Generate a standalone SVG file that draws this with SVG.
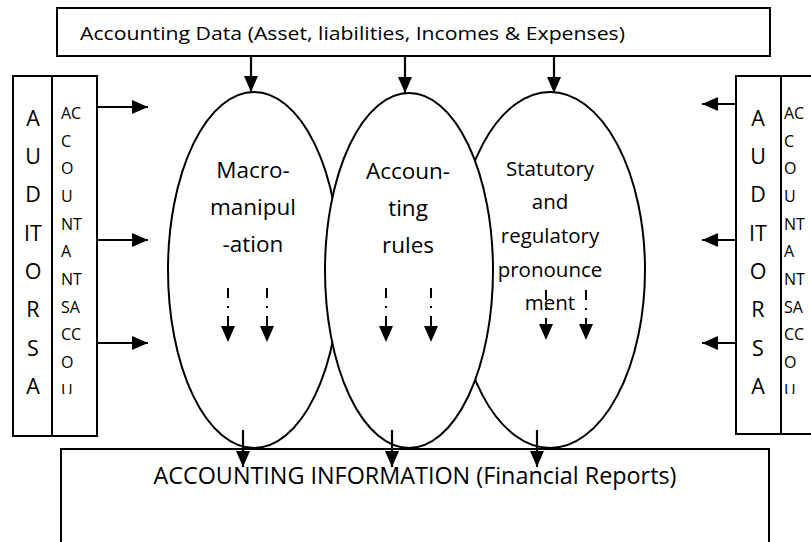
<svg xmlns="http://www.w3.org/2000/svg" width="811" height="542" viewBox="0 0 811 542">
<style>
text{font-family:"Open Sans","Noto Sans","Liberation Sans",sans-serif;fill:#000}
.box{fill:#fff;stroke:#000;stroke-width:2}
.ell{fill:#fff;stroke:#000;stroke-width:2}
.ln{stroke:#000;stroke-width:2.2;fill:none}
.dash{stroke:#000;stroke-width:2;fill:none;stroke-dasharray:10 8 2 8}
.big{font-size:21.5px;text-anchor:middle}
.sm{font-size:16px}
.lab{font-size:22.5px;text-anchor:middle}
.lab3{font-size:20.5px;text-anchor:middle}
</style>
<defs>
<marker id="ah" markerUnits="userSpaceOnUse" markerWidth="16" markerHeight="14" viewBox="0 0 16 14" refX="16" refY="7" orient="auto">
<path d="M0,0 L16,7 L0,14 Z" fill="#000"/>
</marker>
<clipPath id="clipL"><rect x="52" y="76" width="45" height="318"/></clipPath>
<clipPath id="clipR"><rect x="781" y="76" width="40" height="318"/></clipPath>
</defs>
<rect width="811" height="542" fill="#fff"/>

<g id="data">
<rect class="box" x="57" y="8" width="713" height="48"/>
<text x="80" y="40" font-size="18.5" textLength="545" lengthAdjust="spacingAndGlyphs">Accounting Data (Asset, liabilities, Incomes &amp; Expenses)</text>
</g>

<g id="info">
<rect class="box" x="61" y="449" width="708" height="110"/>
<text x="415" y="484" font-size="23" text-anchor="middle" textLength="523" lengthAdjust="spacingAndGlyphs">ACCOUNTING INFORMATION (Financial Reports)</text>
</g>

<g id="statutory">
<ellipse class="ell" cx="550" cy="270" rx="95" ry="178"/>
<text class="lab3" x="550" y="176">Statutory</text>
<text class="lab3" x="550" y="209">and</text>
<text class="lab3" x="550" y="243">regulatory</text>
<text class="lab3" x="550" y="277">pronounce</text>
<text class="lab3" x="550" y="310">ment</text>
</g>

<g id="macro">
<ellipse class="ell" cx="254" cy="270" rx="86" ry="178"/>
<text class="lab" x="253" y="178">Macro-</text>
<text class="lab" x="253" y="215">manipul</text>
<text class="lab" x="253" y="252">-ation</text>
</g>

<g id="rules">
<ellipse class="ell" cx="409" cy="270.5" rx="84" ry="177.5"/>
<text class="lab" x="408" y="179">Accoun-</text>
<text class="lab" x="408" y="216">ting</text>
<text class="lab" x="408" y="253">rules</text>
</g>

<g id="auditors-left">
<rect class="box" x="13" y="76" width="84" height="360"/>
<line class="ln" x1="52" y1="76" x2="52" y2="436" style="stroke-width:2"/>
<g class="big">
<text x="33" y="126">A</text>
<text x="33" y="164">U</text>
<text x="33" y="202">D</text>
<text x="33" y="241">IT</text>
<text x="33" y="279">O</text>
<text x="33" y="317">R</text>
<text x="33" y="356">S</text>
<text x="33" y="394">A</text>
</g>
<g class="sm" clip-path="url(#clipL)">
<text x="61" y="119">AC</text>
<text x="61" y="147">C</text>
<text x="61" y="174">O</text>
<text x="61" y="202">U</text>
<text x="61" y="230">NT</text>
<text x="61" y="257">A</text>
<text x="61" y="285">NT</text>
<text x="61" y="313">SA</text>
<text x="61" y="340">CC</text>
<text x="61" y="368">O</text>
<text x="61" y="396">U</text>
</g>
</g>

<g id="auditors-right">
<rect class="box" x="736" y="76" width="90" height="358"/>
<line class="ln" x1="781" y1="76" x2="781" y2="434" style="stroke-width:2"/>
<g class="big">
<text x="758" y="126">A</text>
<text x="758" y="164">U</text>
<text x="758" y="202">D</text>
<text x="758" y="241">IT</text>
<text x="758" y="279">O</text>
<text x="758" y="317">R</text>
<text x="758" y="356">S</text>
<text x="758" y="394">A</text>
</g>
<g class="sm" clip-path="url(#clipR)">
<text x="784" y="119">AC</text>
<text x="784" y="147">C</text>
<text x="784" y="174">O</text>
<text x="784" y="202">U</text>
<text x="784" y="230">NT</text>
<text x="784" y="257">A</text>
<text x="784" y="285">NT</text>
<text x="784" y="313">SA</text>
<text x="784" y="340">CC</text>
<text x="784" y="368">O</text>
<text x="784" y="396">U</text>
</g>
</g>

<g id="connectors">
<line class="ln" x1="251" y1="56" x2="251" y2="92" marker-end="url(#ah)"/>
<line class="ln" x1="405" y1="56" x2="405" y2="93" marker-end="url(#ah)"/>
<line class="ln" x1="554" y1="56" x2="554" y2="93" marker-end="url(#ah)"/>
<line class="ln" x1="243" y1="430" x2="243" y2="467" marker-end="url(#ah)"/>
<line class="ln" x1="392" y1="430" x2="392" y2="467" marker-end="url(#ah)"/>
<line class="ln" x1="537" y1="430" x2="537" y2="467" marker-end="url(#ah)"/>
<line class="ln" x1="97" y1="107" x2="148" y2="107" marker-end="url(#ah)"/>
<line class="ln" x1="97" y1="240" x2="148" y2="240" marker-end="url(#ah)"/>
<line class="ln" x1="97" y1="343" x2="148" y2="343" marker-end="url(#ah)"/>
<line class="ln" x1="736" y1="104" x2="702" y2="104" marker-end="url(#ah)"/>
<line class="ln" x1="736" y1="240" x2="702" y2="240" marker-end="url(#ah)"/>
<line class="ln" x1="736" y1="343" x2="702" y2="343" marker-end="url(#ah)"/>
<line class="dash" x1="228" y1="288" x2="228" y2="342" marker-end="url(#ah)"/>
<line class="dash" x1="267" y1="288" x2="267" y2="342" marker-end="url(#ah)"/>
<line class="dash" x1="386" y1="288" x2="386" y2="342" marker-end="url(#ah)"/>
<line class="dash" x1="431" y1="288" x2="431" y2="342" marker-end="url(#ah)"/>
<line class="dash" x1="546" y1="290" x2="546" y2="340" marker-end="url(#ah)"/>
<line class="dash" x1="586" y1="290" x2="586" y2="340" marker-end="url(#ah)"/>
</g>
</svg>
